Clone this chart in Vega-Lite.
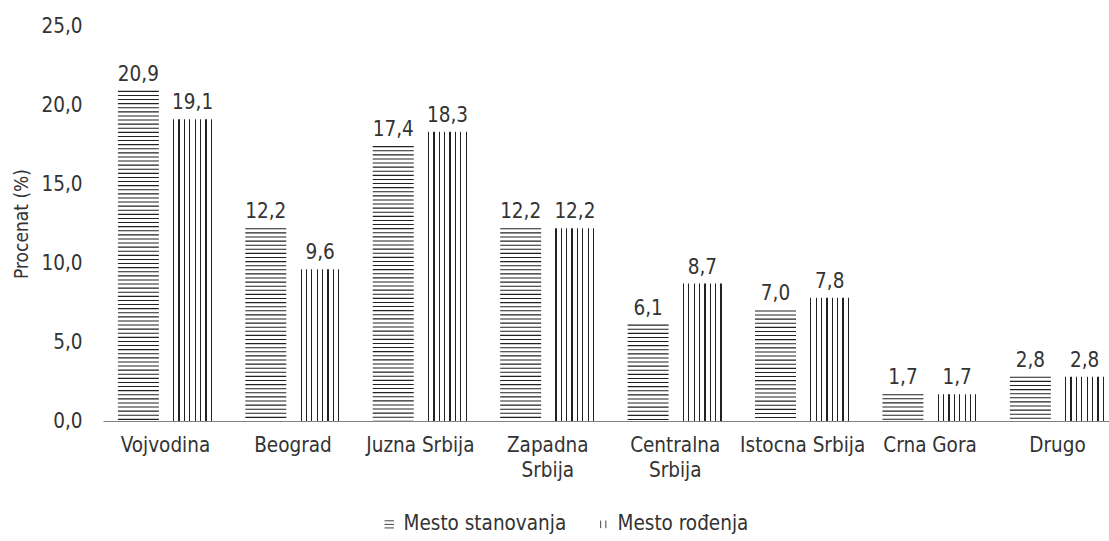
{
  "$schema": "https://vega.github.io/schema/vega-lite/v6.json",
  "width": 1006,
  "height": 395,
  "autosize": "none",
  "padding": {"left": 103, "top": 26, "right": 0, "bottom": 120},
  "background": "white",
  "config": {
    "locale": {"number": {"decimal": ",", "thousands": ".", "grouping": [3], "currency": ["", ""]}},
    "view": {"stroke": null},
    "font": "DejaVu Sans Condensed, sans-serif",
    "axis": {"labelColor": "#333333", "titleColor": "#333333", "grid": false, "ticks": false},
    "legend": {"labelColor": "#333333"}
  },
  "data": {
    "values": [
      {"region": "Vojvodina", "series": "Mesto stanovanja", "value": 20.9},
      {"region": "Vojvodina", "series": "Mesto rođenja", "value": 19.1},
      {"region": "Beograd", "series": "Mesto stanovanja", "value": 12.2},
      {"region": "Beograd", "series": "Mesto rođenja", "value": 9.6},
      {"region": "Juzna Srbija", "series": "Mesto stanovanja", "value": 17.4},
      {"region": "Juzna Srbija", "series": "Mesto rođenja", "value": 18.3},
      {"region": "Zapadna Srbija", "series": "Mesto stanovanja", "value": 12.2},
      {"region": "Zapadna Srbija", "series": "Mesto rođenja", "value": 12.2},
      {"region": "Centralna Srbija", "series": "Mesto stanovanja", "value": 6.1},
      {"region": "Centralna Srbija", "series": "Mesto rođenja", "value": 8.7},
      {"region": "Istocna Srbija", "series": "Mesto stanovanja", "value": 7.0},
      {"region": "Istocna Srbija", "series": "Mesto rođenja", "value": 7.8},
      {"region": "Crna Gora", "series": "Mesto stanovanja", "value": 1.7},
      {"region": "Crna Gora", "series": "Mesto rođenja", "value": 1.7},
      {"region": "Drugo", "series": "Mesto stanovanja", "value": 2.8},
      {"region": "Drugo", "series": "Mesto rođenja", "value": 2.8}
    ]
  },
  "encoding": {
    "x": {
      "field": "region",
      "type": "nominal",
      "sort": null,
      "scale": {"range": [0, 1017], "paddingInner": 0.255, "paddingOuter": 0.118},
      "axis": {
        "title": null,
        "labelAngle": 0,
        "labelFontSize": 20.5,
        "labelPadding": 14,
        "labelLineHeight": 25,
        "labelOverlap": false,
        "labelLimit": 300,
        "domain": true,
        "domainColor": "#808080",
        "domainWidth": 1.2,
        "labelExpr": "datum.label == 'Zapadna Srbija' ? ['Zapadna', 'Srbija'] : datum.label == 'Centralna Srbija' ? ['Centralna', 'Srbija'] : datum.label"
      }
    },
    "xOffset": {
      "field": "series",
      "type": "nominal",
      "sort": null,
      "scale": {"domain": ["Mesto stanovanja", "Mesto rođenja"], "paddingInner": 0.25, "paddingOuter": 0}
    },
    "y": {
      "field": "value",
      "type": "quantitative",
      "scale": {"domain": [0, 25], "nice": false},
      "axis": {
        "title": "Procenat (%)",
        "titleFontSize": 19,
        "titleFontWeight": "normal",
        "titlePadding": 9,
        "values": [0, 5, 10, 15, 20, 25],
        "format": ".1f",
        "labelFontSize": 20.5,
        "labelPadding": 21,
        "domain": false
      }
    }
  },
  "layer": [
    {
      "transform": [{"filter": "datum.series == 'Mesto rođenja'"}],
      "mark": {
        "type": "bar",
        "fill": {
          "gradient": "linear",
          "x1": 0, "y1": 0, "x2": 1, "y2": 0,
          "stops": [
            {"offset": 0, "color": "white"},
            {"offset": 0.02, "color": "white"}, {"offset": 0.02, "color": "#222222"}, {"offset": 0.05, "color": "#222222"}, {"offset": 0.05, "color": "white"},
            {"offset": 0.152, "color": "white"}, {"offset": 0.152, "color": "#222222"}, {"offset": 0.182, "color": "#222222"}, {"offset": 0.182, "color": "white"},
            {"offset": 0.284, "color": "white"}, {"offset": 0.284, "color": "#222222"}, {"offset": 0.314, "color": "#222222"}, {"offset": 0.314, "color": "white"},
            {"offset": 0.416, "color": "white"}, {"offset": 0.416, "color": "#222222"}, {"offset": 0.446, "color": "#222222"}, {"offset": 0.446, "color": "white"},
            {"offset": 0.548, "color": "white"}, {"offset": 0.548, "color": "#222222"}, {"offset": 0.578, "color": "#222222"}, {"offset": 0.578, "color": "white"},
            {"offset": 0.68, "color": "white"}, {"offset": 0.68, "color": "#222222"}, {"offset": 0.71, "color": "#222222"}, {"offset": 0.71, "color": "white"},
            {"offset": 0.812, "color": "white"}, {"offset": 0.812, "color": "#222222"}, {"offset": 0.842, "color": "#222222"}, {"offset": 0.842, "color": "white"},
            {"offset": 0.944, "color": "white"}, {"offset": 0.944, "color": "#222222"}, {"offset": 0.974, "color": "#222222"}, {"offset": 0.974, "color": "white"},
            {"offset": 1, "color": "white"}
          ]
        }
      },
      "encoding": {}
    },
    {
      "transform": [{"filter": "datum.series == 'Mesto stanovanja'"}],
      "mark": {"type": "rule", "strokeWidth": 41, "strokeDash": [1.1, 3.0], "strokeCap": "butt", "color": "#222222"},
      "encoding": {"y2": {"datum": 0}}
    },
    {
      "mark": {"type": "text", "baseline": "middle", "dy": -16, "fontSize": 20.5, "color": "#333333"},
      "encoding": {"text": {"field": "value", "type": "quantitative", "format": ".1f"}}
    },
    {
      "mark": {"type": "point", "opacity": 0},
      "encoding": {
        "shape": {
          "field": "series",
          "type": "nominal",
          "sort": null,
          "scale": {
            "domain": ["Mesto stanovanja", "Mesto rođenja"],
            "range": ["M-1,-0.75H1M-1,0H1M-1,0.75H1", "M-0.55,-0.8V0.8M0.55,-0.8V0.8"]
          },
          "legend": {
            "title": null,
            "orient": "none",
            "direction": "horizontal",
            "legendX": 276,
            "legendY": 488,
            "labelFontSize": 20.5,
            "labelLimit": 400,
            "labelOffset": 4,
            "columnPadding": 26,
            "symbolSize": 90,
            "symbolOpacity": 1,
            "symbolStrokeColor": "#444444",
            "symbolFillColor": "transparent",
            "symbolStrokeWidth": 1
          }
        }
      }
    }
  ]
}
